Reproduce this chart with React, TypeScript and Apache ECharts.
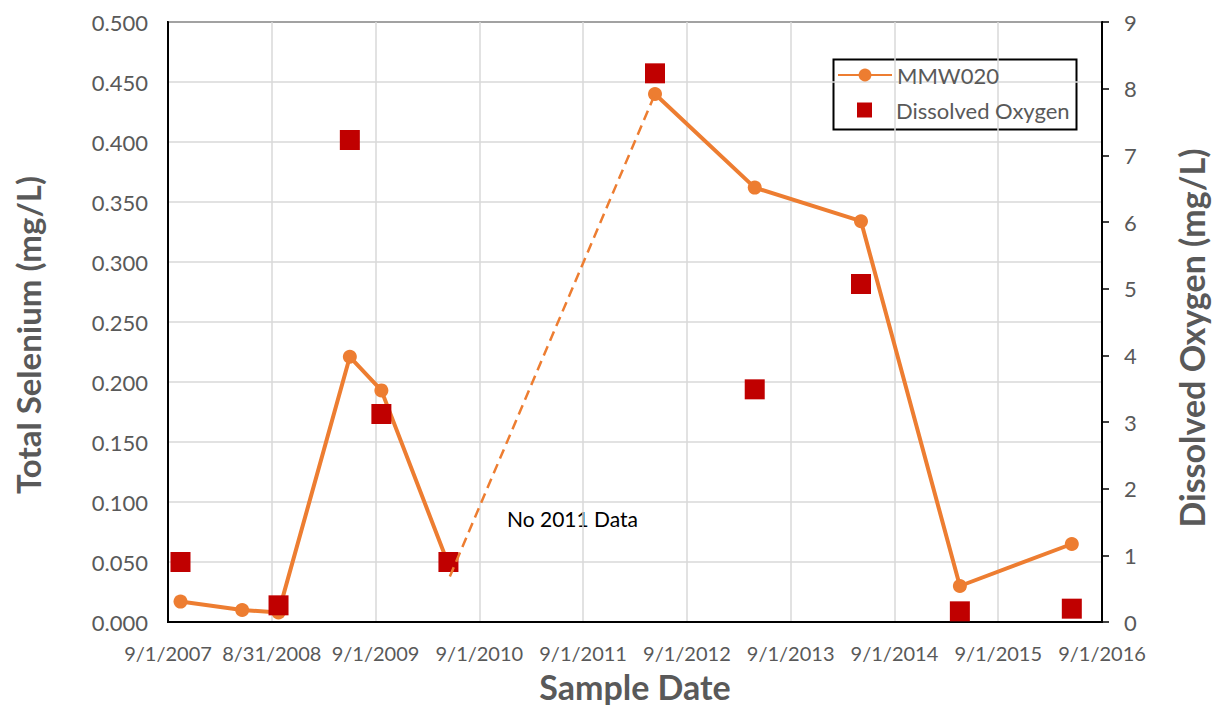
import React, { useEffect, useRef } from "react";
import * as echarts from "echarts";

const tickLabels = ["9/1/2007", "8/31/2008", "9/1/2009", "9/1/2010", "9/1/2011", "9/1/2012", "9/1/2013", "9/1/2014", "9/1/2015", "9/1/2016"];
const sampleDates = ["2007-10-15", "2008-05-19", "2008-09-24", "2009-06-02", "2009-09-21", "2010-05-15", "2012-05-11", "2013-04-27", "2014-05-06", "2015-04-19", "2016-05-17"];
const seleniumValues = [0.017, 0.010, 0.008, 0.221, 0.193, 0.048, 0.440, 0.362, 0.334, 0.030, 0.065];
const breakAfterIndex = 5; // no 2011 data: solid line is broken here
const doDates = ["2007-10-15", "2008-09-24", "2009-06-02", "2009-09-21", "2010-05-15", "2012-05-11", "2013-04-27", "2014-05-06", "2015-04-19", "2016-05-17"];
const doValues = [0.9, 0.25, 7.23, 3.12, 0.9, 8.23, 3.49, 5.07, 0.16, 0.2];
const gapDates = ["2010-05-20", "2012-05-11"];
const gapValues = [0.038, 0.440];

const ORIGIN = Date.parse("2007-09-01");
const toYears = (d: string) => (Date.parse(d) - ORIGIN) / (365.25 * 86400000);

const FONT = "Lato, 'Open Sans', sans-serif";
const GRAY = "#595959";

export default function App() {
  const ref = useRef<HTMLDivElement>(null);
  useEffect(() => {
    if (!ref.current) return;
    const chart = echarts.init(ref.current, null, { renderer: "svg" });
    const seleniumData: any[] = [];
    sampleDates.forEach((d, i) => {
      seleniumData.push([toYears(d), seleniumValues[i]]);
      if (i === breakAfterIndex) seleniumData.push([(toYears(d) + toYears(sampleDates[i + 1])) / 2, "-"]);
    });
    chart.setOption({
      animation: false,
      backgroundColor: "#fff",
      textStyle: { fontFamily: FONT },
      grid: { left: 168, right: 114, top: 22, bottom: 83, show: true, borderColor: "#000", borderWidth: 2, containLabel: false },
      legend: [
        {
          data: ["MMW020"], left: 837, top: 62, orient: "vertical", padding: 0,
          itemWidth: 54, itemHeight: 16,
          textStyle: { fontFamily: FONT, fontSize: 22, color: GRAY, lineHeight: 26 },
        },
        {
          data: [{ name: "Dissolved Oxygen", icon: "rect" }], left: 857, top: 97, orient: "vertical", padding: 0,
          itemWidth: 15, itemHeight: 15,
          formatter: (name: string) => `{s|}${name}`,
          textStyle: { fontFamily: FONT, fontSize: 22, color: GRAY, lineHeight: 26, rich: { s: { width: 19 } } },
        },
      ],
      xAxis: {
        type: "value", min: 0, max: 9, interval: 1,
        axisLine: { show: true, lineStyle: { color: "#000", width: 2 } },
        axisTick: { show: false },
        splitLine: { show: true, lineStyle: { color: "#d9d9d9", width: 1.5 } },
        axisLabel: { color: GRAY, fontSize: 20, fontFamily: FONT, margin: 21, formatter: (v: number) => tickLabels[Math.round(v)] ?? "" },
      },
      yAxis: [
        {
          type: "value", min: 0, max: 0.5, interval: 0.05,
          axisLine: { show: true, lineStyle: { color: "#000", width: 2 } },
          axisTick: { show: false },
          splitLine: { show: true, lineStyle: { color: "#d9d9d9", width: 1.5 } },
          axisLabel: { color: GRAY, fontSize: 22, fontFamily: FONT, margin: 20, formatter: (v: number) => v.toFixed(3) },
        },
        {
          type: "value", min: 0, max: 9, interval: 1, position: "right",
          axisLine: { show: true, lineStyle: { color: "#000", width: 2 } },
          axisTick: { show: true, inside: false, length: 7, lineStyle: { color: "#000", width: 1.5 } },
          splitLine: { show: false },
          axisLabel: { color: GRAY, fontSize: 22, fontFamily: FONT, margin: 22 },
        },
      ],
      series: [
        {
          name: "MMW020", type: "line", yAxisIndex: 0, z: 2,
          data: seleniumData,
          connectNulls: false,
          symbol: "circle", symbolSize: 14,
          lineStyle: { color: "#ED7D31", width: 4 },
          itemStyle: { color: "#ED7D31", opacity: 1 },
        },
        {
          name: "Dissolved Oxygen", type: "scatter", yAxisIndex: 1, z: 3,
          data: doDates.map((d, i) => [toYears(d), doValues[i]]),
          symbol: "rect", symbolSize: 20,
          itemStyle: { color: "#C00000", opacity: 1 },
        },
        {
          name: "gap", type: "line", yAxisIndex: 0, z: 4,
          data: gapDates.map((d, i) => [toYears(d), gapValues[i]]),
          symbol: "none",
          lineStyle: { color: "#ED7D31", width: 2.5, type: [10, 6] },
        },
      ],
      graphic: [
        { type: "rect", left: 831, top: 57, shape: { width: 243, height: 70 }, style: { fill: "none", stroke: "#000", lineWidth: 2 }, z: 0 },
        { type: "text", x: 28, y: 335, rotation: Math.PI / 2, style: { text: "Total Selenium (mg/L)", font: `bold 33px ${FONT}`, fill: GRAY, align: "center", verticalAlign: "middle" } },
        { type: "text", x: 1191, y: 338, rotation: Math.PI / 2, style: { text: "Dissolved Oxygen (mg/L)", font: `bold 34px ${FONT}`, fill: GRAY, align: "center", verticalAlign: "middle" } },
        { type: "text", x: 635, y: 686, style: { text: "Sample Date", font: `bold 34px ${FONT}`, fill: GRAY, align: "center", verticalAlign: "middle" } },
        { type: "text", x: 507, y: 518, style: { text: "No 2011 Data", font: `21px ${FONT}`, fill: "#000", align: "left", verticalAlign: "middle" } },
      ],
    });
    return () => chart.dispose();
  }, []);
  return <div ref={ref} style={{ position: "fixed", left: 0, top: 0, width: 1216, height: 705 }} />;
}
